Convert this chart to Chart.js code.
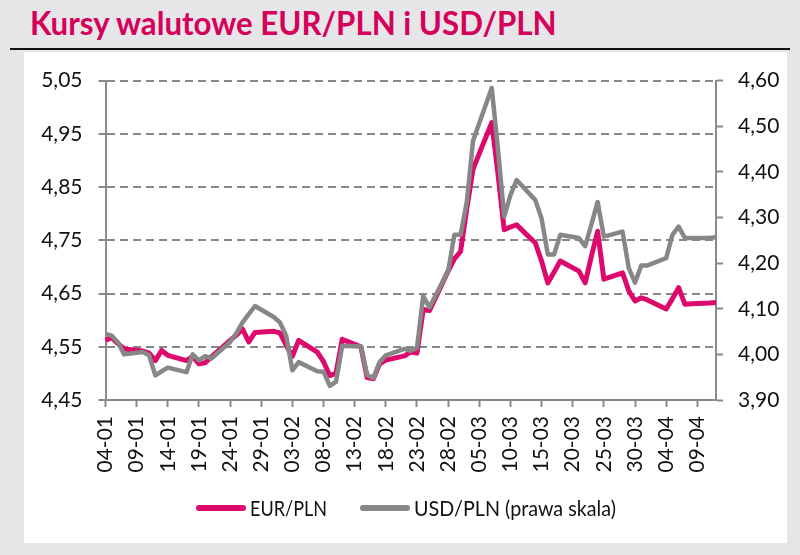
<!DOCTYPE html>
<html><head><meta charset="utf-8">
<script src="https://cdn.jsdelivr.net/npm/chart.js@4.4.1/dist/chart.umd.min.js"></script>
<style>
html,body{margin:0;padding:0;}
body{width:800px;height:555px;background:#e6e6e8;position:relative;overflow:hidden;font-family:Lato,sans-serif;}
#title{position:absolute;left:30px;top:5px;margin:0;font-weight:bold;color:#d4005a;white-space:nowrap;line-height:1;font-family:Lato,sans-serif;transform-origin:0 0;}
#rule{position:absolute;left:10px;top:48px;width:780px;height:2px;background:#111;}
#panel{position:absolute;left:24px;top:52px;width:763px;height:491px;background:#fff;}
#chart{position:absolute;left:0;top:0;}
.lg-line{position:absolute;height:6px;width:50px;border-radius:3px;}
.lg-text{position:absolute;font-family:Lato,sans-serif;font-size:21px;line-height:24px;color:#111;white-space:nowrap;transform-origin:0 50%;}
</style></head>
<body>
<h1 id="title">Kursy walutowe EUR/PLN i USD/PLN</h1>
<div id="rule"></div>
<div id="panel"><canvas id="chart" width="763" height="491"></canvas><div id="legend"></div></div>
<script>
const tradingDays = ['04-01','05-01','06-01','07-01','10-01','11-01','12-01','13-01','14-01','17-01','18-01','19-01','20-01','21-01','24-01','25-01','26-01','27-01','28-01','31-01',
'01-02','02-02','03-02','04-02','07-02','08-02','09-02','10-02','11-02','14-02','15-02','16-02','17-02','18-02','21-02','22-02','23-02','24-02','25-02','28-02',
'01-03','02-03','03-03','04-03','07-03','08-03','09-03','10-03','11-03','14-03','15-03','16-03','17-03','18-03','21-03','22-03','23-03','24-03','25-03','28-03','29-03','30-03','31-03',
'01-04','04-04','05-04','06-04','07-04','08-04','11-04','12-04'];
const eurPln = [4.562,4.567,4.556,4.546,4.542,4.538,4.524,4.543,4.534,4.524,4.532,4.518,4.520,4.531,4.562,4.572,4.583,4.559,4.577,4.579,
4.576,4.553,4.532,4.562,4.540,4.522,4.496,4.500,4.564,4.550,4.492,4.490,4.518,4.525,4.533,4.540,4.538,4.620,4.618,4.692,
4.715,4.729,4.810,4.884,4.971,4.875,4.770,4.775,4.779,4.745,4.711,4.670,4.690,4.711,4.692,4.670,4.720,4.767,4.677,4.689,4.655,4.636,4.642,
4.638,4.621,4.640,4.661,4.630,4.631,4.632,4.633];
const usdPln = [4.045,4.041,4.026,4.000,4.005,3.998,3.954,3.963,3.971,3.961,4.000,3.987,3.996,3.991,4.027,4.046,4.070,4.088,4.106,4.082,
4.070,4.041,3.965,3.983,3.963,3.962,3.931,3.940,4.019,4.017,3.955,3.948,3.983,3.998,4.012,4.008,4.014,4.128,4.103,4.182,
4.262,4.262,4.334,4.468,4.584,4.450,4.302,4.349,4.382,4.338,4.298,4.219,4.219,4.262,4.255,4.237,4.285,4.334,4.258,4.269,4.189,4.157,4.195,
4.195,4.211,4.262,4.280,4.255,4.255,4.255,4.257];
const tickLabels = ['04-01','09-01','14-01','19-01','24-01','29-01','03-02','08-02','13-02','18-02','23-02','28-02','05-03','10-03','15-03','20-03','25-03','30-03','04-04','09-04'];
const seriesNames = ['EUR/PLN','USD/PLN (prawa skala)'];

// calendar categories from 04-01 to 12-04 (2022)
const calendar = [];
for (let d = new Date(Date.UTC(2022,0,4)); d.getTime() <= Date.UTC(2022,3,12); d.setUTCDate(d.getUTCDate()+1)) {
  calendar.push(String(d.getUTCDate()).padStart(2,'0') + '-' + String(d.getUTCMonth()+1).padStart(2,'0'));
}

const measure = (txt, font) => { const c = document.createElement('canvas').getContext('2d'); c.font = font; return c.measureText(txt).width; };

// title sizing: tall condensed look
(function(){
  const t = document.getElementById('title');
  const size = 33;
  const w = measure(t.textContent, 'bold ' + size + 'px Lato');
  t.style.fontSize = size + 'px';
  t.style.transform = 'scaleX(' + (528 / w) + ')';
  t.style.top = (35 - 0.887 * size) + 'px';
})();

const axisGray = '#8a8a8a';
const gridGray = '#878787';
const textCol = '#111111';
const tickFont = {family: 'Lato', size: 21};
const fmt = v => Number(v).toFixed(2).replace('.', ',');
const colors = ['#dc0a6c', '#878787'];

const chart = new Chart(document.getElementById('chart'), {
  type: 'line',
  data: {
    labels: calendar,
    datasets: [
      {label: seriesNames[0], data: tradingDays.map((d,i)=>({x:d, y:eurPln[i]})), borderColor: colors[0], backgroundColor: colors[0], borderWidth: 5, pointRadius: 0, tension: 0, yAxisID: 'y', order: 1, borderJoinStyle: 'round'},
      {label: seriesNames[1], data: tradingDays.map((d,i)=>({x:d, y:usdPln[i]})), borderColor: colors[1], backgroundColor: colors[1], borderWidth: 4.5, pointRadius: 0, tension: 0, yAxisID: 'y1', order: 0, borderJoinStyle: 'round'}
    ]
  },
  options: {
    responsive: false,
    devicePixelRatio: 1,
    animation: false,
    layout: {padding: {top: 25.7, bottom: 63, left: 0, right: 0}},
    plugins: {legend: {display: false}, tooltip: {enabled: false}, title: {display: false}},
    scales: {
      x: {
        type: 'category', offset: false,
        grid: {drawOnChartArea: false, drawTicks: true, tickLength: 7, tickWidth: 2,
          tickColor: ctx => tickLabels.includes(calendar[ctx.index]) ? axisGray : 'rgba(0,0,0,0)'},
        border: {color: axisGray, width: 2},
        ticks: {autoSkip: false, minRotation: 90, maxRotation: 90, padding: 9, font: tickFont, color: textCol,
          callback: function(v){ const l = this.getLabelForValue(v); return tickLabels.includes(l) ? l : ''; }},
        afterFit: s => { s.height = 80; }
      },
      y: {
        position: 'left', min: 4.45, max: 5.05,
        ticks: {stepSize: 0.1, padding: 16, font: tickFont, color: textCol, callback: fmt},
        grid: {color: gridGray, lineWidth: 2, drawTicks: true, tickLength: 7, tickWidth: 2, tickColor: axisGray},
        border: {color: axisGray, width: 2, dash: [8, 5]},
        afterFit: s => { s.width = 81.5; }
      },
      y1: {
        position: 'right', min: 3.9, max: 4.6,
        ticks: {stepSize: 0.1, padding: 15, font: tickFont, color: textCol, callback: fmt},
        grid: {drawOnChartArea: false, drawTicks: true, tickLength: 7, tickWidth: 2, tickColor: axisGray},
        border: {color: axisGray, width: 2},
        afterFit: s => { s.width = 71; }
      }
    }
  }
});

// HTML legend from datasets
(function(){
  const lg = document.getElementById('legend');
  const lefts = [172, 336];
  const textWidths = [77, 202];
  const textOff = 54;
  chart.data.datasets.forEach((ds, i) => {
    const line = document.createElement('div');
    line.className = 'lg-line';
    line.style.background = ds.borderColor;
    line.style.left = lefts[i] + 'px';
    line.style.top = (508 - 52 - 3) + 'px';
    const tx = document.createElement('div');
    tx.className = 'lg-text';
    tx.textContent = ds.label;
    const w = measure(ds.label, '21px Lato');
    tx.style.transform = 'scaleX(' + Math.min(1, textWidths[i] / w) + ')';
    tx.style.left = (lefts[i] + textOff) + 'px';
    tx.style.top = (508 - 52 - 12) + 'px';
    lg.appendChild(line); lg.appendChild(tx);
  });
})();
</script>
</body></html>
